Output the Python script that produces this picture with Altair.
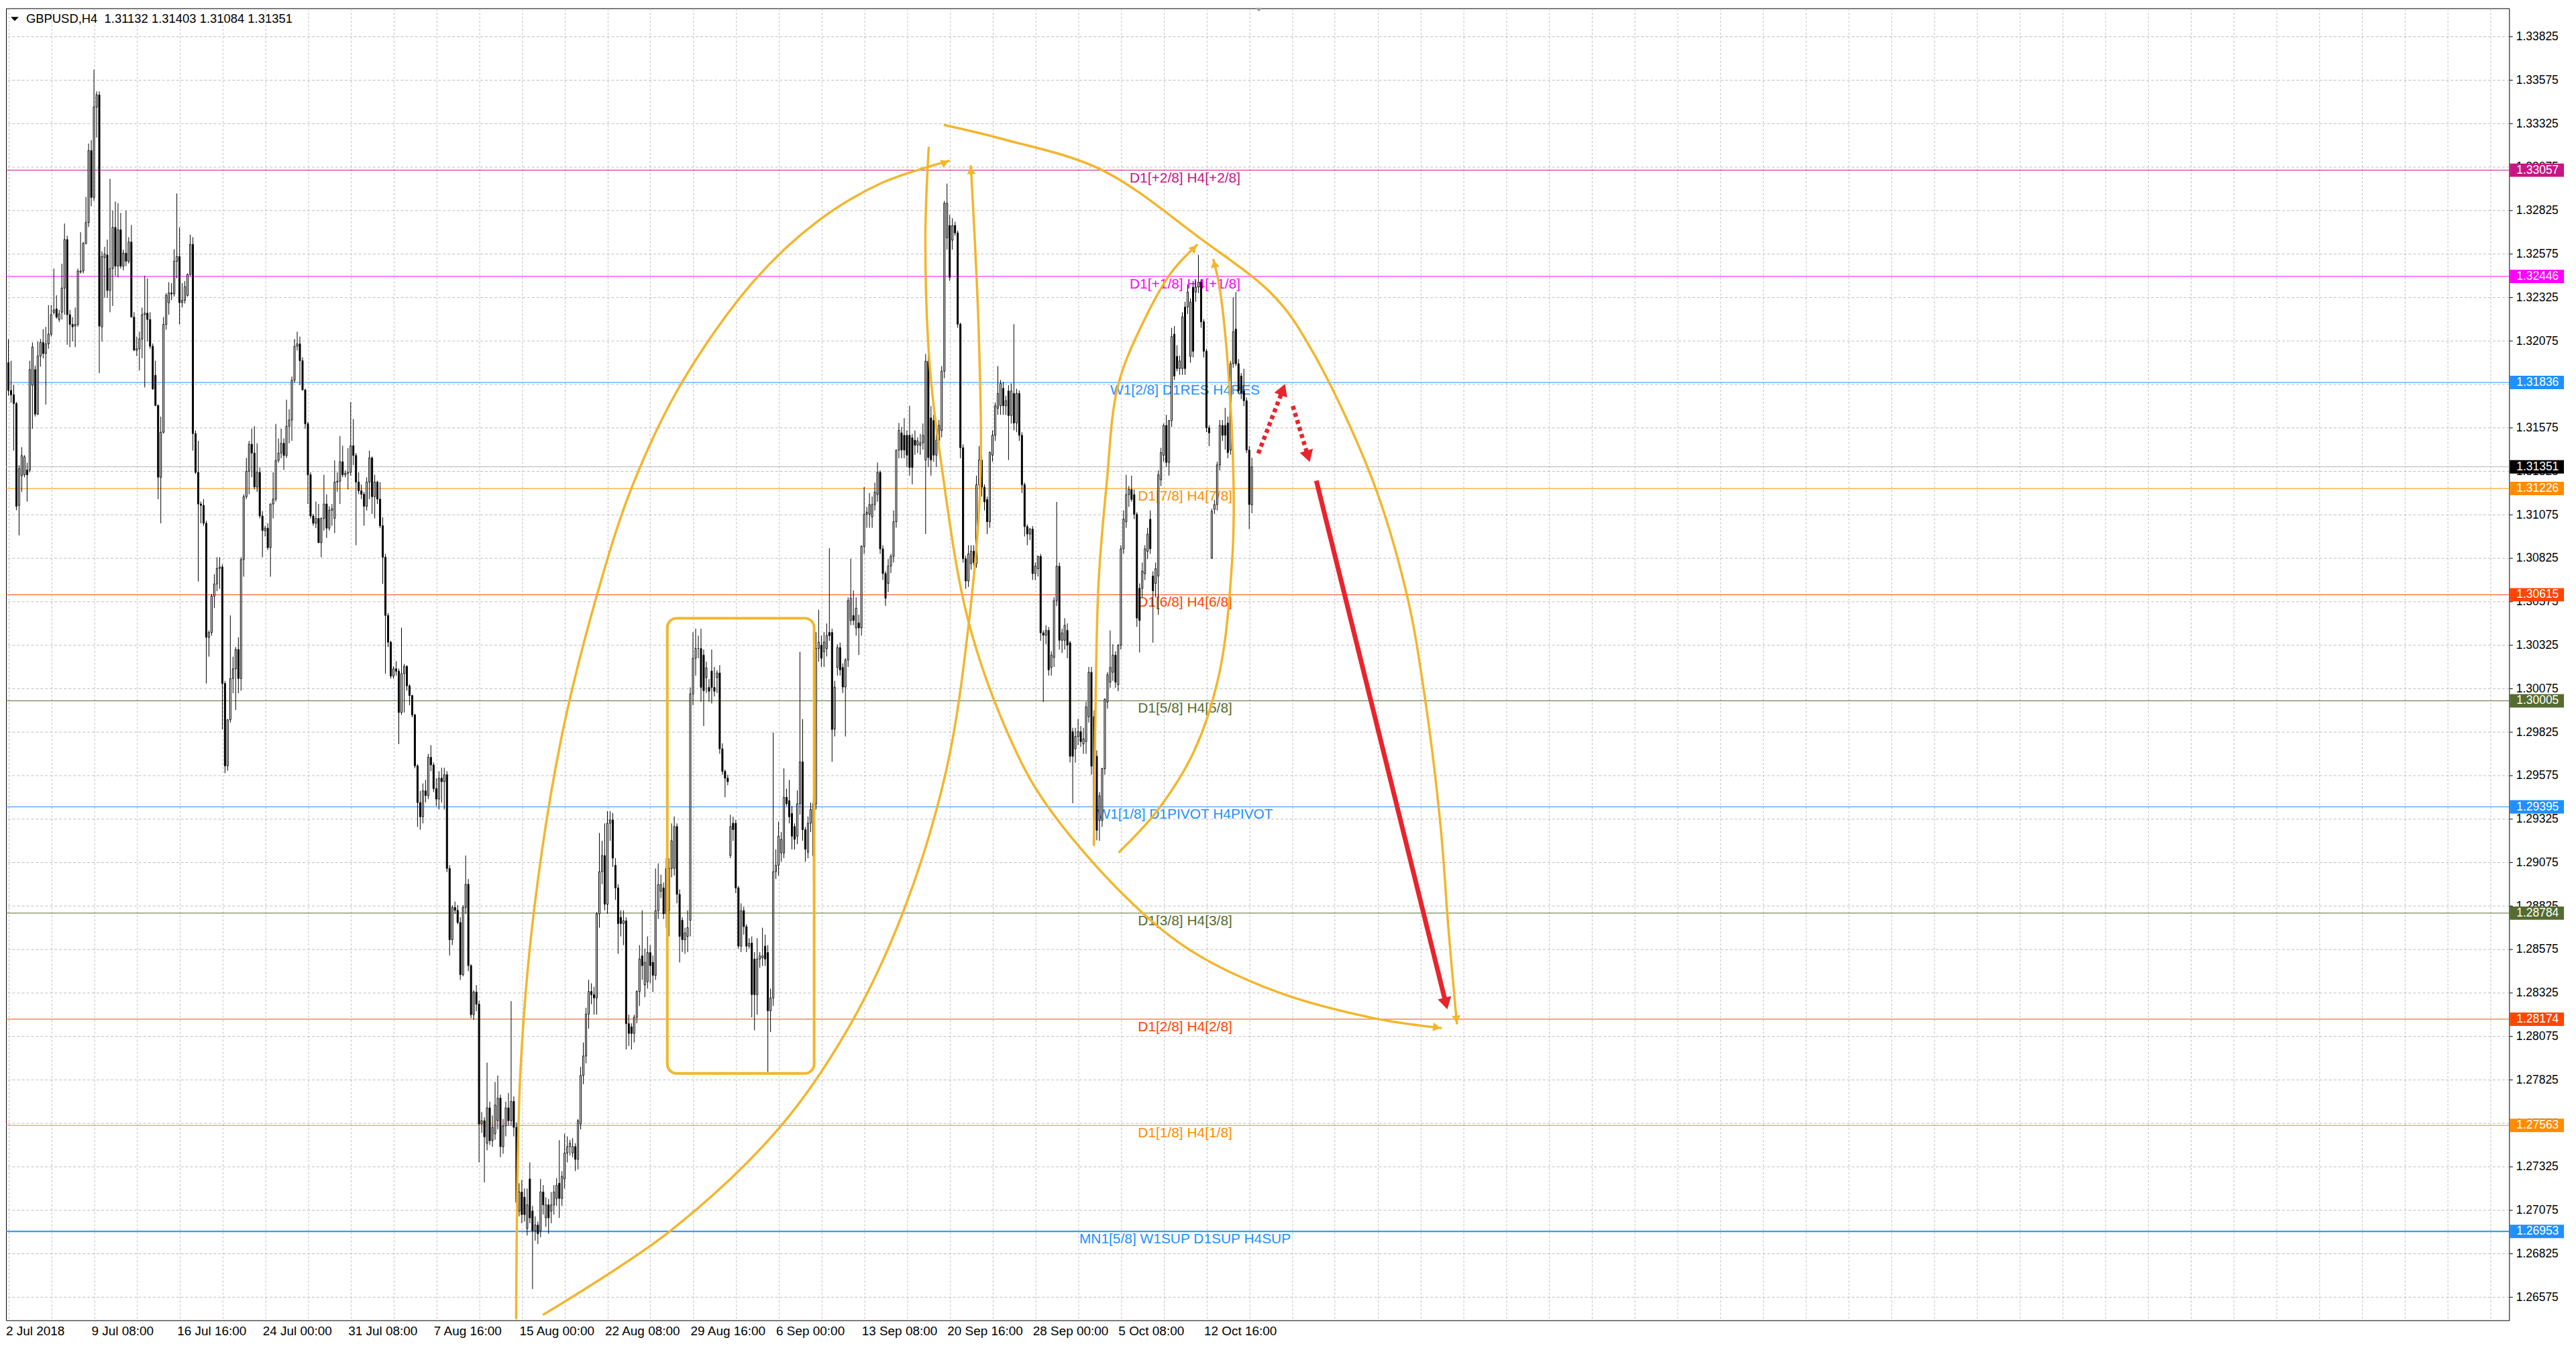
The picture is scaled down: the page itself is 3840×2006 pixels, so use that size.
import altair as alt
import pandas as pd

# ---------------- candle data (H4 bars, values in 1e-5 above BASE) ----------------
BASE = 1.26
PT = 1e-5

O = [
 5950, 5790, 5765, 5715, 5129, 5300, 5305, 5333, 5333, 5820,
 5910, 5654, 5988, 6066, 6002, 6058, 6114, 6239, 6259, 6198,
 6240, 6379, 6658, 6226, 6170, 6161, 6170, 6471, 6477, 6636,
 6756, 7170, 6900, 7420, 7490, 6156, 6555, 6569, 6365, 6491,
 6728, 6505, 6714, 6505, 6580, 6533, 6644, 6212, 6022, 6030,
 6086, 6226, 6235, 6198, 6044, 5877, 5704, 5291, 5550, 6170,
 6295, 6351, 6345, 6533, 6560, 6295, 6309, 6337, 6457, 6630,
 5542, 5319, 5137, 5129, 5026, 4370, 4398, 4607, 4677, 4766,
 4775, 4105, 3631, 3896, 4133, 4189, 4300, 4133, 4817, 5179,
 5325, 5481, 5430, 5235, 5319, 5068, 4984, 4998, 4886, 5137,
 5165, 5388, 5430, 5486, 5416, 5584, 5620, 5849, 6044, 6058,
 5961, 5793, 5598, 5305, 5068, 5026, 5054, 4914, 5054, 5137,
 4998, 5101, 5054, 5263, 5268, 5380, 5305, 5314, 5319, 5472,
 5416, 5263, 5213, 5193, 5124, 5263, 5402, 5179, 5263, 5165,
 5012, 4831, 4496, 4342, 4147, 4189, 4175, 3938, 4161, 4203,
 4091, 4035, 3924, 3631, 3420, 3338, 3487, 3460, 3680, 3636,
 3500, 3440, 3560, 3540, 3580, 3041, 2631, 2817, 2800, 2730,
 2430, 2817, 2950, 2482, 2200, 2330, 2260, 1571, 1590, 1460,
 1664, 1475, 1515, 1590, 1720, 1441, 1560, 1664, 1590, 1701,
 1552, 1070, 1180, 1150, 970, 1255, 1070, 957, 990, 957,
 1180, 1031, 1106, 1070, 1106, 1143, 1230, 1143, 1255, 1404,
 1441, 1404, 1441, 1368, 1571, 1850, 1962, 2203, 2333, 2315,
 2296, 2780, 3022, 3115, 2835, 3301, 3320, 3059, 2929, 2760,
 2724, 2740, 2148, 2130, 2092, 2185, 2333, 2538, 2371, 2390,
 2557, 2501, 2426, 2798, 2910, 2929, 3041, 2800, 3041, 3041,
 3282, 2892, 2743, 2631, 2650, 2743, 4045, 4250, 4306, 4306,
 4268, 4138, 4082, 4176, 4082, 4138, 4165, 3729, 3599, 3560,
 3115, 3301, 3301, 2929, 2594, 2798, 2706, 2594, 2612, 2520,
 2315, 2520, 2527, 2594, 2557, 2222, 2296, 3022, 3059, 3130,
 3130, 3450, 3431, 3357, 3282, 3226, 3413, 3654, 3264, 3134,
 3301, 3115, 3413, 4306, 4325, 4287, 4306, 4398, 4398, 3842,
 4197, 4311, 4197, 4084, 4240, 4467, 4495, 4424, 4453, 4424,
 4893, 5078, 5078, 5063, 5134, 5191, 5319, 4879, 4737, 4680,
 4780, 4836, 5035, 5447, 5546, 5532, 5532, 5532, 5518, 5504,
 5475, 5475, 5489, 5390, 5958, 5632, 5618, 5418, 5504, 5560,
 5901, 6668, 6739, 6654, 6739, 6696, 6171, 5461, 4822, 4694,
 4794, 4865, 4794, 5248, 5390, 5234, 5163, 5035, 5418, 5532,
 5688, 5702, 5802, 5702, 5787, 5646, 5773, 5603, 5773, 5532,
 5248, 5007, 4964, 4993, 4737, 4765, 4836, 4396, 4382, 4410,
 4197, 4254, 4581, 4779, 4353, 4353, 4410, 4339, 3828, 3729,
 3800, 3828, 3757, 3771, 3914, 4169, 3914, 3686, 3317, 3317,
 3615, 3998, 4112, 4169, 4268, 4098, 4325, 4879, 5035, 5191,
 5220, 5191, 5078, 4652, 4652, 4737, 4865, 5049, 4723, 4680,
 4723, 5276, 5418, 5589, 5376, 5617, 6114, 5986, 5916, 5916,
 6270, 6270, 5986, 6384, 6356, 6384, 6413, 6185, 6015, 5575,
 4825, 5106, 5134, 5362, 5589, 5589, 5603, 5447, 5944, 6143,
 5944, 5873, 5788, 5731, 5447, 5132,
]

H = [
 6085, 5960, 5821, 5723, 5361, 5464, 5418, 5375, 5961, 6066,
 5933, 6072, 6086, 6142, 6156, 6281, 6281, 6491, 6337, 6253,
 6519, 6750, 6680, 6253, 6212, 6267, 6491, 6700, 6644, 6903,
 7210, 7230, 7635, 7510, 7510, 6590, 6616, 6658, 7007, 6825,
 6876, 6867, 6811, 6600, 6825, 6672, 6742, 6240, 6100, 6128,
 6267, 6449, 6435, 6240, 6060, 5961, 5709, 5640, 6212, 6350,
 6413, 6407, 6602, 6923, 6728, 6407, 6420, 6463, 6686, 6672,
 5560, 5500, 5151, 5165, 5040, 4410, 4620, 4733, 4831, 4831,
 4790, 4120, 3900, 4496, 4259, 4314, 4370, 4831, 5193, 5402,
 5500, 5570, 5584, 5486, 5347, 5096, 5012, 5026, 5140, 5319,
 5598, 5514, 5570, 5514, 5737, 5681, 5870, 6086, 6128, 6100,
 5980, 5800, 5610, 5320, 5080, 5151, 5137, 5060, 5305, 5193,
 5124, 5137, 5388, 5319, 5528, 5472, 5330, 5458, 5723, 5626,
 5430, 5319, 5249, 5207, 5290, 5444, 5410, 5305, 5270, 5263,
 5060, 4850, 4510, 4350, 4203, 4233, 4190, 4426, 4217, 4210,
 4100, 4040, 3930, 3640, 3487, 3530, 3550, 3700, 3750, 3650,
 3560, 3600, 3620, 3620, 3600, 3060, 2830, 2850, 2830, 2760,
 2830, 3115, 2980, 2490, 2340, 2370, 2280, 1640, 1610, 1924,
 1700, 1620, 1813, 1850, 1740, 1600, 1700, 1750, 2278, 1730,
 1580, 1230, 1250, 1200, 1200, 1350, 1100, 1040, 1010, 1255,
 1220, 1150, 1140, 1180, 1220, 1260, 1478, 1300, 1515, 1500,
 1480, 1490, 1460, 1600, 1900, 2040, 2240, 2400, 2380, 2360,
 2790, 3245, 3200, 3300, 3370, 3370, 3360, 3100, 2950, 2800,
 2800, 2760, 2200, 2150, 2200, 2340, 2600, 2800, 2580, 2650,
 2600, 2540, 3041, 3070, 3005, 2960, 3100, 3100, 3300, 3340,
 3300, 2920, 2760, 2700, 2800, 4082, 4400, 4420, 4380, 4420,
 4300, 4230, 4130, 4300, 4200, 4180, 4210, 3760, 3610, 3580,
 3350, 3338, 3320, 2940, 2840, 2820, 2720, 2640, 2650, 2560,
 2640, 2560, 2700, 2660, 2600, 2350, 3822, 3150, 3310, 3250,
 3616, 3500, 3550, 3400, 3300, 3490, 4287, 3900, 3280, 3340,
 3420, 3450, 4400, 4529, 4380, 4400, 4450, 4883, 4420, 4120,
 4330, 4340, 4220, 4250, 4600, 4822, 4640, 4600, 4500, 4900,
 5234, 5120, 5200, 5180, 5260, 5376, 5330, 4900, 4750, 4820,
 4850, 5100, 5450, 5603, 5580, 5631, 5560, 5702, 5540, 5560,
 5520, 5540, 5600, 6000, 6000, 5700, 5650, 5550, 5620, 5930,
 6880, 6980, 6800, 6780, 6760, 6710, 6180, 5480, 4840, 4900,
 4900, 4900, 5300, 5470, 5420, 5250, 5180, 5440, 5560, 5720,
 5930, 5850, 5840, 5760, 5820, 5830, 6171, 5800, 5790, 5550,
 5260, 5020, 5000, 5010, 4800, 4840, 4850, 4410, 4440, 4430,
 4290, 4600, 5149, 4800, 4420, 4480, 4450, 4350, 3850, 3850,
 3900, 3860, 3850, 4000, 4200, 4200, 3950, 3720, 3480, 3620,
 4020, 4170, 4410, 4330, 4290, 4330, 4900, 5100, 5305, 5240,
 5300, 5220, 5090, 4680, 4800, 4900, 5000, 5100, 4750, 4800,
 5330, 5460, 5600, 5650, 5620, 6150, 6160, 6050, 5990, 6240,
 6300, 6400, 6320, 6420, 6420, 6569, 6430, 6200, 6030, 5590,
 5110, 5160, 5380, 5620, 5620, 5690, 5640, 5960, 6327, 6356,
 5970, 5890, 5915, 5750, 5470, 5403,
]

L = [
 5760, 5720, 5444, 5101, 4956, 5207, 5291, 5151, 5319, 5570,
 5640, 5648, 5927, 5975, 5709, 6030, 6100, 6226, 6203, 6184,
 6198, 6226, 6053, 6039, 6072, 6039, 6156, 6463, 6463, 6630,
 6730, 6850, 6880, 7245, 5890, 6072, 6323, 6323, 6240, 6276,
 6449, 6440, 6491, 6480, 6505, 6520, 6212, 6016, 5988, 5905,
 5975, 5807, 6072, 6030, 5793, 5700, 5165, 5026, 5542, 6140,
 6226, 6310, 6330, 6435, 6170, 6267, 6290, 6330, 6449, 5444,
 5310, 4691, 5026, 5012, 4105, 4259, 4380, 4538, 4635, 4649,
 3840, 3589, 3603, 3880, 4049, 3952, 4049, 4063, 4719, 5165,
 5193, 5291, 5221, 5207, 5054, 4831, 4950, 4872, 4719, 5054,
 5151, 5375, 5400, 5333, 5402, 5486, 5500, 5835, 6020, 5821,
 5790, 5570, 5137, 5054, 5012, 4998, 4914, 4831, 4984, 4942,
 4984, 5012, 4970, 5207, 5137, 5291, 5290, 5221, 5300, 5360,
 4900, 5193, 5165, 5012, 5100, 5165, 5080, 5054, 5137, 4998,
 4677, 4161, 4314, 4133, 4133, 4150, 3756, 3924, 3938, 4063,
 3980, 3910, 3617, 3280, 3264, 3300, 3420, 3440, 3600, 3480,
 3400, 3380, 3420, 3380, 3020, 2540, 2600, 2780, 2720, 2400,
 2420, 2780, 2450, 2180, 2170, 2220, 1350, 1520, 1235, 1420,
 1450, 1440, 1480, 1540, 1380, 1400, 1500, 1560, 1560, 1500,
 1050, 1040, 1000, 1010, 930, 1000, 622, 900, 880, 920,
 1050, 980, 940, 1000, 1050, 1100, 1031, 1100, 1200, 1350,
 1390, 1380, 1300, 1310, 1540, 1800, 1920, 2120, 2260, 2200,
 2200, 2700, 2950, 2800, 2780, 3200, 3050, 2860, 2550, 2650,
 2600, 2000, 2020, 1999, 2040, 2150, 2250, 2400, 2300, 2350,
 2380, 2330, 2400, 2750, 2870, 2750, 2700, 2650, 2990, 3000,
 2840, 2500, 2560, 2550, 2560, 2650, 3980, 4150, 4250, 4000,
 3860, 4050, 4000, 3990, 4030, 4050, 3700, 3580, 3450, 3520,
 3100, 3200, 2900, 2580, 2560, 2660, 2560, 2580, 2185, 2110,
 2200, 2470, 2480, 2480, 1870, 2100, 2250, 2980, 3000, 3080,
 3100, 3400, 3300, 3150, 3150, 3180, 3350, 3200, 3080, 3100,
 3250, 2966, 3380, 4230, 4200, 4200, 4260, 4350, 3654, 3800,
 4150, 4150, 4050, 3800, 4200, 4440, 4440, 4380, 4268, 4380,
 4850, 5000, 5000, 5000, 5100, 5150, 4850, 4700, 4550, 4630,
 4740, 4800, 5000, 5400, 5400, 5400, 5350, 5300, 5250, 5420,
 5430, 5420, 5450, 4964, 5350, 5300, 5380, 5350, 5480, 5520,
 5860, 6600, 6420, 6600, 6680, 6150, 5400, 4800, 4650, 4660,
 4760, 4780, 4770, 5200, 5180, 5100, 4964, 5000, 5380, 5500,
 5650, 5650, 5650, 5650, 5390, 5600, 5560, 5550, 5500, 5200,
 4950, 4900, 4930, 4700, 4700, 4720, 4350, 3998, 4330, 4150,
 4150, 4200, 4550, 4300, 4280, 4300, 4250, 3650, 3416, 3650,
 3750, 3740, 3700, 3700, 3880, 3580, 3250, 3203, 3200, 3280,
 3580, 3960, 4080, 4120, 4080, 4060, 4300, 4850, 5000, 5120,
 5150, 5050, 4430, 4283, 4600, 4700, 4820, 4850, 4340, 4600,
 4500, 5240, 5380, 5350, 5300, 5580, 5850, 5900, 5880, 5880,
 5880, 6230, 5950, 5980, 6300, 6350, 6150, 5980, 5550, 5470,
 4822, 5080, 5100, 5330, 5500, 5450, 5400, 5420, 5920, 5930,
 5770, 5740, 5700, 5430, 4992, 5084,
]

C = [
 5790, 5765, 5715, 5124, 5341, 5416, 5408, 5305, 5910, 6040,
 5654, 5988, 6066, 6002, 6058, 6114, 6226, 6253, 6212, 6231,
 6379, 6658, 6226, 6170, 6156, 6170, 6477, 6477, 6636, 6756,
 7170, 6900, 7420, 7490, 6160, 6560, 6574, 6365, 6491, 6728,
 6505, 6714, 6505, 6580, 6533, 6644, 6212, 6022, 6030, 6086,
 6226, 6235, 6198, 6044, 5799, 5704, 5291, 5550, 6170, 6337,
 6351, 6345, 6533, 6560, 6295, 6309, 6387, 6457, 6630, 5542,
 5319, 5137, 5129, 5026, 4370, 4398, 4607, 4677, 4766, 4775,
 4105, 3631, 3896, 4133, 4189, 4300, 4133, 4817, 5179, 5325,
 5481, 5430, 5235, 5319, 5068, 4984, 4998, 4886, 5137, 5165,
 5388, 5430, 5486, 5416, 5584, 5620, 5849, 6044, 6058, 5961,
 5793, 5598, 5305, 5068, 5026, 5054, 4914, 5054, 5137, 4998,
 5101, 5110, 5263, 5268, 5380, 5305, 5314, 5319, 5472, 5416,
 5263, 5213, 5193, 5124, 5263, 5402, 5179, 5263, 5165, 5012,
 4831, 4496, 4342, 4147, 4189, 4175, 3938, 4161, 4203, 4091,
 4035, 3924, 3631, 3420, 3338, 3487, 3460, 3680, 3636, 3500,
 3440, 3560, 3540, 3580, 3041, 2631, 2817, 2800, 2730, 2430,
 2817, 2950, 2482, 2200, 2330, 2260, 1571, 1590, 1497, 1664,
 1475, 1552, 1680, 1720, 1441, 1560, 1664, 1590, 1701, 1552,
 1120, 1180, 1050, 1050, 1106, 1031, 957, 990, 940, 1180,
 1106, 1106, 1031, 1106, 1180, 1218, 1143, 1270, 1404, 1441,
 1460, 1441, 1368, 1590, 1850, 1962, 2203, 2333, 2315, 2296,
 2780, 3022, 3115, 2835, 3301, 3320, 3100, 2929, 2724, 2724,
 2740, 2148, 2092, 2092, 2185, 2333, 2520, 2482, 2501, 2557,
 2482, 2426, 2798, 2948, 2948, 2780, 2780, 3041, 3200, 3282,
 2892, 2650, 2631, 2670, 2700, 4045, 4250, 4306, 4306, 4082,
 4063, 4194, 4060, 4082, 4060, 4165, 3729, 3599, 3560, 3540,
 3282, 3264, 2929, 2594, 2798, 2706, 2594, 2610, 2315, 2315,
 2520, 2538, 2538, 2520, 2222, 2296, 3022, 3059, 3226, 3208,
 3450, 3413, 3338, 3226, 3208, 3413, 3654, 3264, 3152, 3301,
 3380, 3413, 4306, 4343, 4250, 4343, 4380, 4380, 3840, 4084,
 4311, 4183, 4084, 4240, 4581, 4595, 4467, 4538, 4424, 4893,
 5078, 5090, 5134, 5134, 5205, 5319, 4879, 4737, 4595, 4780,
 4836, 5035, 5447, 5560, 5447, 5447, 5418, 5347, 5347, 5475,
 5500, 5489, 5532, 5958, 5404, 5390, 5418, 5504, 5589, 5901,
 6867, 6867, 6441, 6739, 6696, 6171, 5461, 4822, 4694, 4850,
 4865, 4800, 5248, 5390, 5234, 5149, 5035, 5433, 5532, 5702,
 5773, 5830, 5702, 5731, 5646, 5787, 5603, 5773, 5532, 5248,
 5007, 4964, 4993, 4737, 4780, 4836, 4396, 4382, 4410, 4183,
 4268, 4581, 4779, 4353, 4396, 4439, 4325, 3686, 3686, 3800,
 3828, 3770, 3786, 3970, 4169, 3629, 3317, 3260, 3459, 3615,
 4013, 4155, 4197, 4268, 4112, 4325, 4879, 5050, 5191, 5220,
 5163, 5078, 4481, 4467, 4751, 4879, 4964, 4879, 4638, 4765,
 5305, 5433, 5589, 5376, 5617, 6100, 5873, 5916, 5960, 6214,
 5916, 6356, 6299, 6015, 6384, 6413, 6185, 6015, 5575, 5546,
 5095, 5134, 5362, 5589, 5532, 5532, 5433, 5944, 6128, 5944,
 5788, 5773, 5731, 5447, 5134, 5351,
]

# ---------------- axes ----------------
DATE_LABELS = ["2 Jul 2018", "9 Jul 08:00", "16 Jul 16:00", "24 Jul 00:00", "31 Jul 08:00",
               "7 Aug 16:00", "15 Aug 00:00", "22 Aug 08:00", "29 Aug 16:00", "6 Sep 00:00",
               "13 Sep 08:00", "20 Sep 16:00", "28 Sep 00:00", "5 Oct 08:00", "12 Oct 16:00"]
LABEL_STEP = 32          # bars between date labels
GRID_BARS = [0, 16, 32, 48, 64, 80, 96, 112, 128, 144, 160, 176, 192, 208, 224, 240, 256,
             272, 288, 304, 320, 336, 352, 368, 384, 400, 416, 432, 448, 464, 480, 496, 512,
             528, 544, 560, 576, 592, 608, 624, 640, 656, 672, 688, 704, 720, 736, 752, 768,
             784, 800, 816, 832, 848, 864, 880, 896, 912, 928]
PRICE_TICKS = [1.26575, 1.26825, 1.27075, 1.27325, 1.27575, 1.27825, 1.28075, 1.28325,
               1.28575, 1.28825, 1.29075, 1.29325, 1.29575, 1.29825, 1.30075, 1.30325,
               1.30575, 1.30825, 1.31075, 1.31325, 1.31575, 1.31825, 1.32075, 1.32325,
               1.32575, 1.32825, 1.33075, 1.33325, 1.33575, 1.33825]
W, HGT = 3744, 1962
X_DOMAIN = [-0.875, -0.875 + W / 4.0]   # 4 px per bar
Y_DOMAIN = [1.26442, 1.33988]

HEADER = "GBPUSD,H4\u00a0\u00a01.31132 1.31403 1.31084 1.31351"

# ---------------- Murrey-math levels ----------------
LEVEL_PRICES = [1.33057, 1.32446, 1.31836, 1.31226, 1.30615, 1.30005, 1.29395,
                1.28784, 1.28174, 1.27563, 1.26953]
LEVEL_NAMES = ["D1[+2/8] H4[+2/8]", "D1[+1/8] H4[+1/8]", "W1[2/8] D1RES H4RES",
               "D1[7/8] H4[7/8]", "D1[6/8] H4[6/8]", "D1[5/8] H4[5/8]",
               "W1[1/8] D1PIVOT H4PIVOT", "D1[3/8] H4[3/8]", "D1[2/8] H4[2/8]",
               "D1[1/8] H4[1/8]", "MN1[5/8] W1SUP D1SUP H4SUP"]
LEVEL_COLORS = ["#C71585", "#FF00FF", "#1E90FF", "#FF8C00", "#FF4500", "#556B2F",
                "#1E90FF", "#556B2F", "#FF4500", "#FF8C00", "#1E90FF"]
LEVEL_WIDTHS = [1, 1, 1, 1, 1, 1, 1, 1, 1, 1, 2]
LEVEL_LABEL_BAR = 440
CURRENT_PRICE = 1.31351

# ---------------- hand-drawn annotations (bar index, price) ----------------
ORANGE = "#F3B52B"
RED = "#E8242C"
ARCS = {
    "a1": [(189.9, 1.26453), (191.4, 1.27850), (196.4, 1.28779), (206.7, 1.29785),
           (219.9, 1.30603), (233.2, 1.31236), (251.65, 1.31831), (278.9, 1.32422),
           (302.5, 1.32762), (326.5, 1.32983), (351.65, 1.33110)],
    "a2": [(200.15, 1.26476), (247.5, 1.26956), (288.4, 1.27551), (313.65, 1.28111),
           (334.4, 1.28783), (350.65, 1.29601), (359.15, 1.30453), (363.4, 1.31248),
           (362.9, 1.32100), (359.9, 1.33079)],
    "a3": [(350.15, 1.33316), (371.8, 1.33236), (408.65, 1.33060), (445.4, 1.32668),
           (473.65, 1.32326), (487.9, 1.32008), (510.4, 1.31263), (522.9, 1.30618),
           (529.4, 1.30054), (535.4, 1.29309), (538.65, 1.28664), (541.65, 1.28150)],
    "a4": [(344.15, 1.33186), (342.9, 1.32668), (344.4, 1.31958), (348.65, 1.31390),
           (359.15, 1.30453), (375.9, 1.29743), (388.15, 1.29409), (415.4, 1.28914),
           (441.4, 1.28576), (474.4, 1.28331), (510.15, 1.28181), (535.65, 1.28123)],
    "a6": [(405.9, 1.29175), (406.4, 1.29827), (407.65, 1.30680), (410.65, 1.31248),
           (414.9, 1.31816), (424.4, 1.32184), (434.9, 1.32469), (444.4, 1.32626)],
    "a7": [(415.4, 1.29136), (429.65, 1.29374), (443.4, 1.29716), (452.9, 1.30169),
           (457.65, 1.30821), (458.15, 1.31248), (455.9, 1.31958), (452.9, 1.32384),
           (450.65, 1.32541)],
}
ORANGE_HEADS = [(350.3, 1.33101, 68), (359.98, 1.33056, 357), (541.5, 1.28173, 175),
                (534.15, 1.28127, 98), (443.4, 1.32609, 43), (450.98, 1.32519, 348)]
RED_SOLID = [(489.1, 1.31271), (537.55, 1.28264)]
RED_DOTTED = {"d1": [(467.4, 1.31428), (476.6, 1.31795)],
              "d2": [(480.3, 1.31701), (486.0, 1.31411)]}
RED_HEADS = [(537.55, 1.28264, 166), (476.6, 1.31795, 21), (486.0, 1.31411, 163)]
BOX = {"b1": 246.4, "b2": 301.3, "p1": 1.27862, "p2": 1.30480}
SHIFT_MARK_BAR = 467.6

FONT = "Liberation Sans"

n = min(len(O), len(H), len(L), len(C))
bars = pd.DataFrame({
    "i": list(range(n)),
    "o": [BASE + v * PT for v in O[:n]],
    "h": [BASE + v * PT for v in H[:n]],
    "l": [BASE + v * PT for v in L[:n]],
    "c": [BASE + v * PT for v in C[:n]],
})

xs = alt.Scale(domain=X_DOMAIN, nice=False, zero=False)
ys = alt.Scale(domain=Y_DOMAIN, nice=False, zero=False)

label_expr = ("datum.value % " + str(LABEL_STEP) + " == 0 && datum.value / " + str(LABEL_STEP)
              + " < " + str(len(DATE_LABELS)) + " ? ["
              + ",".join("'" + s + "'" for s in DATE_LABELS)
              + "][datum.value / " + str(LABEL_STEP) + "] : ''")

x_axis = alt.Axis(values=GRID_BARS, labelExpr=label_expr, grid=True, gridDash=[3, 3],
                  gridColor="#BEBEBE", ticks=False, domain=False, labelAlign="left",
                  labelOffset=-4, labelPadding=7, labelFontSize=19, labelFont=FONT,
                  labelColor="black", title=None, labelOverlap=False, labelFlush=False,
                  labelBound=False)
y_axis = alt.Axis(orient="right", values=PRICE_TICKS, format=".5f", grid=True,
                  gridDash=[4, 3], gridColor="#BEBEBE", tickSize=5, tickColor="black",
                  domain=False, labelPadding=5, labelFontSize=17.5, labelFont=FONT,
                  labelColor="black", title=None, labelOverlap=False, labelFlush=False)


def X(field):
    return alt.X(field, scale=xs, axis=x_axis, title=None)


def Y(field):
    return alt.Y(field, scale=ys, axis=y_axis, title=None)


levels = pd.DataFrame({"p": LEVEL_PRICES, "name": LEVEL_NAMES, "col": LEVEL_COLORS,
                       "w": LEVEL_WIDTHS, "xb": [LEVEL_LABEL_BAR] * len(LEVEL_PRICES)})

level_rules = alt.Chart(levels).mark_rule().encode(
    x=alt.value(0), x2=alt.value(W),
    y=Y("p:Q"),
    color=alt.Color("col:N", scale=None),
    strokeWidth=alt.StrokeWidth("w:Q", scale=None),
)
current_rule = alt.Chart(pd.DataFrame({"p": [CURRENT_PRICE]})).mark_rule(
    color="#B4B4B4", strokeWidth=1).encode(x=alt.value(0), x2=alt.value(W), y=Y("p:Q"))

level_text = alt.Chart(levels).mark_text(
    align="center", baseline="top", dy=1, fontSize=21, font=FONT
).encode(
    x=X("xb:Q"),
    y=Y("p:Q"),
    text="name:N",
    color=alt.Color("col:N", scale=None),
)

wicks = alt.Chart(bars).mark_rule(color="black", strokeWidth=1).encode(
    x=X("i:Q"),
    y=Y("l:Q"),
    y2="h:Q",
)
bodies = alt.Chart(bars).transform_calculate(
    x1="datum.i - 0.25", x2="datum.i + 0.25",
    top="max(datum.o, datum.c)", bot="min(datum.o, datum.c)",
).mark_rect(stroke="black", strokeWidth=1).encode(
    x=X("x1:Q"),
    x2="x2:Q",
    y=Y("top:Q"),
    y2="bot:Q",
    fill=alt.condition("datum.c >= datum.o", alt.value("white"), alt.value("black")),
)

box = alt.Chart(pd.DataFrame([BOX])).mark_rect(
    fill="white", fillOpacity=0, stroke=ORANGE, strokeWidth=4, cornerRadius=14
).encode(
    x=X("b1:Q"), x2="b2:Q",
    y=Y("p1:Q"), y2="p2:Q",
)

arc_rows = []
for name, pts in ARCS.items():
    for k, (bi, pr) in enumerate(pts):
        arc_rows.append({"arc": name, "k": k, "bi": bi, "pr": pr})
arcs = alt.Chart(pd.DataFrame(arc_rows)).mark_line(
    color=ORANGE, strokeWidth=3.5, interpolate="catmull-rom", strokeCap="round"
).encode(
    x=X("bi:Q"),
    y=Y("pr:Q"),
    detail="arc:N",
    order="k:Q",
)

oh = pd.DataFrame(ORANGE_HEADS, columns=["bi", "pr", "ang"])
orange_heads = alt.Chart(oh).mark_point(
    shape="triangle-up", filled=True, color=ORANGE, size=170, opacity=1
).encode(
    x=X("bi:Q"),
    y=Y("pr:Q"),
    angle=alt.Angle("ang:Q", scale=None),
)

red_solid = alt.Chart(pd.DataFrame(
    [{"k": k, "bi": b, "pr": p} for k, (b, p) in enumerate(RED_SOLID)])).mark_line(
    color=RED, strokeWidth=7
).encode(
    x=X("bi:Q"),
    y=Y("pr:Q"),
    order="k:Q",
)
dot_rows = []
for name, pts in RED_DOTTED.items():
    for k, (b, p) in enumerate(pts):
        dot_rows.append({"seg": name, "k": k, "bi": b, "pr": p})
red_dotted = alt.Chart(pd.DataFrame(dot_rows)).mark_line(
    color=RED, strokeWidth=6.5, strokeDash=[6, 5]
).encode(
    x=X("bi:Q"),
    y=Y("pr:Q"),
    detail="seg:N",
    order="k:Q",
)
rh = pd.DataFrame(RED_HEADS, columns=["bi", "pr", "ang"])
red_heads = alt.Chart(rh).mark_point(
    shape="triangle-up", filled=True, color=RED, size=420, opacity=1
).encode(
    x=X("bi:Q"),
    y=Y("pr:Q"),
    angle=alt.Angle("ang:Q", scale=None),
)

# price tags on the right axis
tag_prices = LEVEL_PRICES[:3] + [CURRENT_PRICE] + LEVEL_PRICES[3:]
tag_colors = LEVEL_COLORS[:3] + ["#000000"] + LEVEL_COLORS[3:]
tags = pd.DataFrame({"p": tag_prices, "col": tag_colors,
                     "txt": ["%.5f" % v for v in tag_prices]})
tag_boxes = alt.Chart(tags).mark_rule(strokeWidth=20, strokeCap="butt").encode(
    x=alt.value(W + 1), x2=alt.value(W + 82),
    y=Y("p:Q"),
    color=alt.Color("col:N", scale=None),
)
tag_text = alt.Chart(tags).mark_text(
    align="left", baseline="middle", color="white", fontSize=17.5, font=FONT
).encode(
    x=alt.value(W + 11),
    y=Y("p:Q"),
    text="txt:N",
)

header = alt.Chart(pd.DataFrame({"t": [HEADER]})).mark_text(
    align="left", baseline="middle", fontSize=18.5, font=FONT, color="black"
).encode(x=alt.value(30), y=alt.value(16), text="t:N")
header_icon = alt.Chart(pd.DataFrame({"t": [0]})).mark_point(
    shape="M-1,-0.5L1,-0.5L0,0.5Z", filled=True, color="black", size=140, opacity=1
).encode(x=alt.value(13), y=alt.value(16))
shift_mark = alt.Chart(pd.DataFrame({"bi": [SHIFT_MARK_BAR]})).mark_point(
    shape="M-1,-0.5L1,-0.5L0,0.5Z", filled=True, color="#9A9A9A", size=110, opacity=1
).encode(x=X("bi:Q"), y=alt.value(2))

chart = alt.layer(
    level_rules, current_rule, level_text, wicks, bodies, box, arcs,
    orange_heads, red_dotted, red_solid, red_heads, tag_boxes, tag_text,
    header_icon, header, shift_mark,
).properties(
    width=W, height=HGT, padding=0, background="white"
).configure_view(
    stroke="black", strokeWidth=1
)

chart.save("out.html", embed_options={"renderer": "svg", "actions": False})
